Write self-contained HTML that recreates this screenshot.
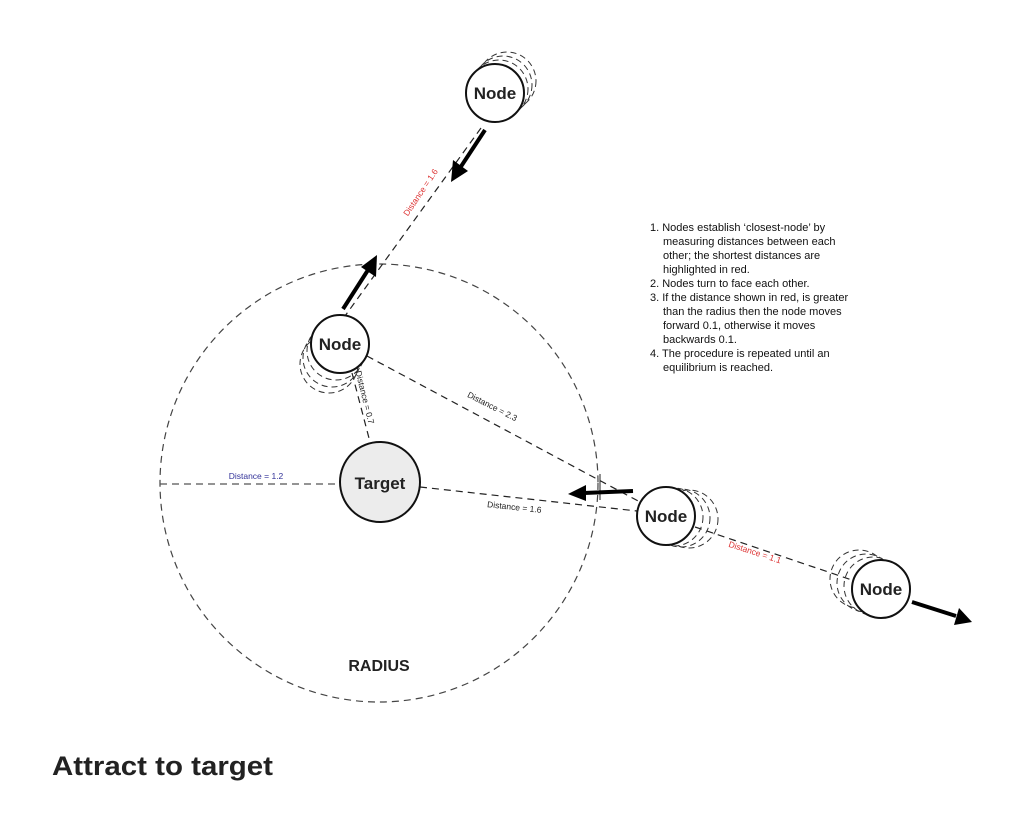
<!DOCTYPE html>
<html><head><meta charset="utf-8"><style>
html,body{margin:0;padding:0;background:#fff;}
svg{display:block;font-family:"Liberation Sans",Arial,sans-serif;}
</style></head><body>
<svg width="1023" height="838" viewBox="0 0 1023 838" xmlns="http://www.w3.org/2000/svg">
<defs>
<marker id="ah" markerWidth="10" markerHeight="10" refX="8" refY="5" orient="auto" markerUnits="userSpaceOnUse" viewBox="0 0 10 10">
</marker>
</defs>
<g fill="none" stroke="#222" stroke-width="1.2" stroke-dasharray="7,5">
<circle cx="379" cy="483" r="219" stroke="#444"/>
<line x1="481" y1="128" x2="345" y2="316"/>
<line x1="352" y1="373" x2="370" y2="442"/>
<line x1="367" y1="356" x2="640" y2="502"/>
<line x1="420" y1="487" x2="637" y2="511"/>
<line x1="695" y1="527" x2="852" y2="580"/>
<line x1="160" y1="484" x2="338" y2="484" stroke="#555"/>
</g>
<g fill="none" stroke="#333" stroke-width="1" stroke-dasharray="6,4">
<circle cx="499" cy="89" r="29"/><circle cx="503" cy="85" r="29"/><circle cx="507" cy="81" r="29"/>
<circle cx="336" cy="351" r="29"/><circle cx="332" cy="358" r="29"/><circle cx="329" cy="364" r="29"/>
<circle cx="674" cy="517" r="29"/><circle cx="681" cy="518" r="29"/><circle cx="689" cy="519" r="29"/>
<circle cx="873" cy="586" r="29"/><circle cx="866" cy="583" r="29"/><circle cx="859" cy="579" r="29"/>
</g>
<g stroke="#222" stroke-width="1"><line x1="600" y1="474" x2="600" y2="500"/></g>
<g fill="#fff" stroke="#111" stroke-width="2">
<circle cx="495" cy="93" r="29"/>
<circle cx="340" cy="344" r="29"/>
<circle cx="666" cy="516" r="29"/>
<circle cx="881" cy="589" r="29"/>
</g>
<circle cx="380" cy="482" r="40" fill="#ececec" stroke="#111" stroke-width="2"/>
<!-- arrows -->
<g stroke="#000" stroke-width="4">
<line x1="485" y1="130" x2="460" y2="168"/>
<line x1="343" y1="309" x2="368" y2="270"/>
<line x1="633" y1="491" x2="584" y2="493"/>
<line x1="912" y1="602" x2="956" y2="616"/>
</g>
<g fill="#000">
<polygon points="451,182 453,160 468,171"/>
<polygon points="377,255 376,277 361,267"/>
<polygon points="568,494 586,485 586,501"/>
<polygon points="972,622 954,625 959,608"/>
</g>
<g font-weight="bold" font-size="17" fill="#222" text-anchor="middle">
<text x="495" y="99">Node</text>
<text x="340" y="350">Node</text>
<text x="666" y="522">Node</text>
<text x="881" y="595">Node</text>
<text x="380" y="489">Target</text>
<text x="379" y="671" font-size="16">RADIUS</text>
</g>
<g font-size="8.5" text-anchor="middle">
<text transform="translate(423,194) rotate(-56)" fill="#d33">Distance = 1.6</text>
<text transform="translate(362,398) rotate(76)" fill="#222">Distance = 0.7</text>
<text transform="translate(491,409) rotate(27)" fill="#222">Distance = 2.3</text>
<text x="256" y="479" fill="#339">Distance = 1.2</text>
<text transform="translate(514,510) rotate(6)" fill="#222">Distance = 1.6</text>
<text transform="translate(754,555) rotate(18)" fill="#d33">Distance = 1.1</text>
</g>
<g font-size="11" fill="#111">
<text x="650" y="231">1. Nodes establish ‘closest-node’ by</text>
<text x="663" y="245">measuring distances between each</text>
<text x="663" y="259">other; the shortest distances are</text>
<text x="663" y="273">highlighted in red.</text>
<text x="650" y="287">2. Nodes turn to face each other.</text>
<text x="650" y="301">3. If the distance shown in red, is greater</text>
<text x="663" y="315">than the radius then the node moves</text>
<text x="663" y="329">forward 0.1, otherwise it moves</text>
<text x="663" y="343">backwards 0.1.</text>
<text x="650" y="357">4. The procedure is repeated until an</text>
<text x="663" y="371">equilibrium is reached.</text>
</g>
<text x="52" y="775" font-size="27" font-weight="bold" fill="#222" textLength="221" lengthAdjust="spacingAndGlyphs">Attract to target</text>
</svg>
</body></html>
